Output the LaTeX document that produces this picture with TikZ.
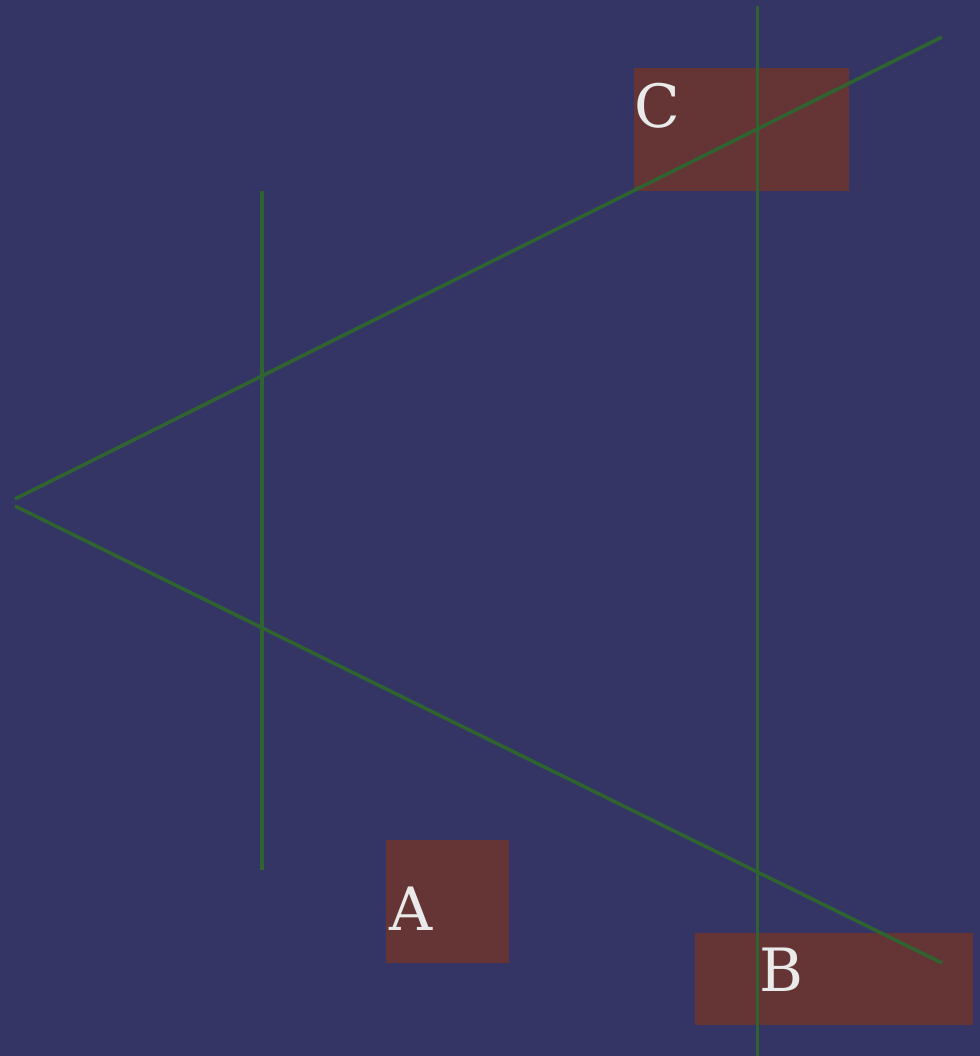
\documentclass[tikz,border=0pt]{standalone}
\usepackage{fontspec}
\setmainfont{DejaVu Serif}
\usetikzlibrary{positioning}
\definecolor{fondnuit}{RGB}{52,52,101}
\definecolor{brique}{RGB}{101,53,53}
\definecolor{vertligne}{RGB}{47,100,48}
\definecolor{texteclair}{RGB}{234,234,234}

\begin{document}
\begin{tikzpicture}[
    x=0.02cm,
    y=-0.02cm,
    bloc/.style={
        fill=brique,
        draw=none,
        inner sep=0pt,
        anchor=north west
    },
    lettre/.style={
        text=texteclair,
        inner sep=0pt,
        anchor=base west,
        font=\fontsize{34}{40}\selectfont
    },
    trait/.style={draw=vertligne, line width=2pt}
]

% === Fond ===
\fill[fondnuit] (0,0) rectangle (980,1056);
\useasboundingbox (0,0) rectangle (980,1056);

% === Blocs ===
\node[bloc, minimum width=4.3cm, minimum height=2.46cm] (blocC) at (634,68) {};
\node[bloc, minimum width=2.46cm, minimum height=2.46cm] (blocA) at (386,840) {};
\node[bloc, minimum width=5.56cm, minimum height=1.84cm] (blocB) at (695,933) {};

% === Extremites des traits ===
\coordinate (hautV1) at (262.2,191);
\coordinate (basV1) at (262.2,870);
\coordinate (hautV2) at (757.5,6);
\coordinate (basV2) at (757.5,1056);
\coordinate (pointe1) at (15,499);
\coordinate (pointe2) at (15,506);
\coordinate (bout1) at (942,37);
\coordinate (bout2) at (942,963);

% === Traits ===
\draw[trait] (hautV1) -- (basV1);
\draw[trait] (hautV2) -- (basV2);
\draw[trait] (bout1) -- (pointe1);
\draw[trait] (pointe2) -- (bout2);

% === Lettres ===
\node[lettre] (labelC) at (634,127) {C};
\node[lettre] (labelA) at (389,930) {A};
\node[lettre] (labelB) at (759,991) {B};

\end{tikzpicture}
\end{document}
